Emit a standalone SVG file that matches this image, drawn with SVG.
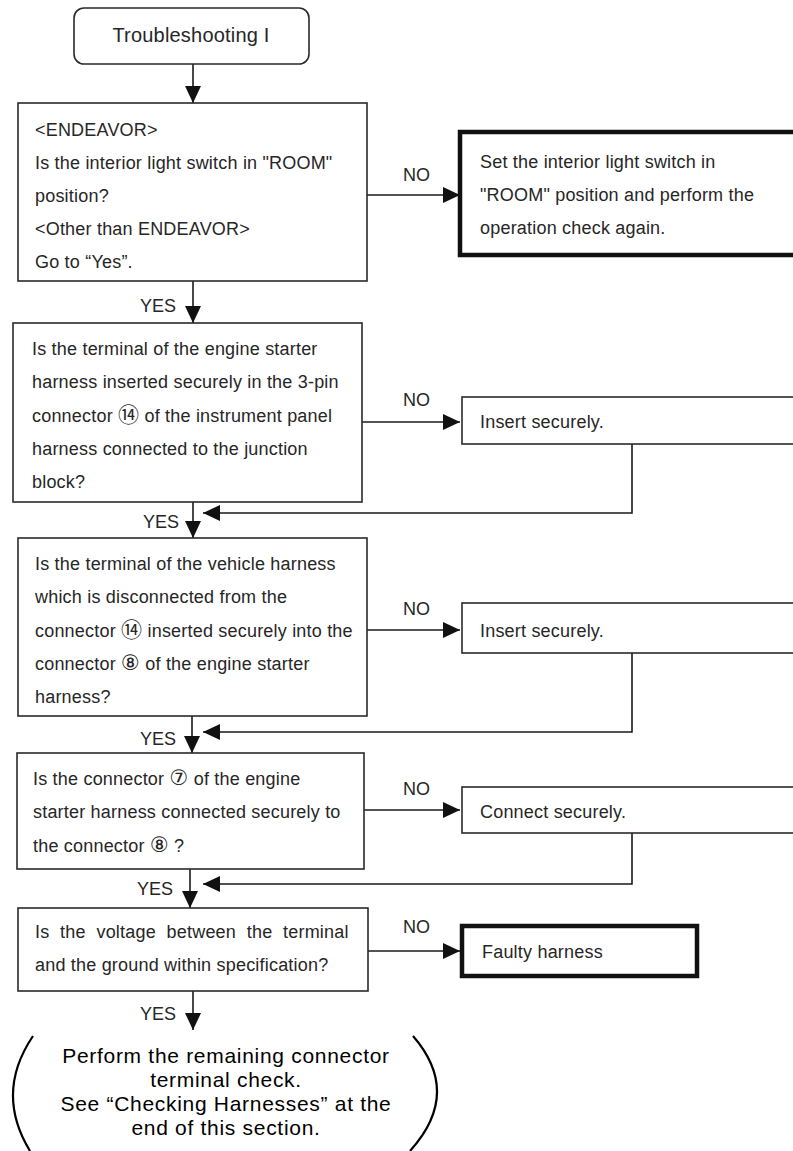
<svg xmlns="http://www.w3.org/2000/svg" width="793" height="1151" viewBox="0 0 793 1151">
<style>
text{font-family:"Liberation Sans","DejaVu Sans","Noto Sans CJK JP",sans-serif;fill:#262626;font-size:18px;letter-spacing:0.2px}
.cn{font-size:21px}
.box{fill:#fff;stroke:#2a2a2a;stroke-width:1.6}
.thick{fill:#fff;stroke:#111;stroke-width:4.5}
.ln{fill:none;stroke:#1a1a1a;stroke-width:1.6}
.arc{fill:none;stroke:#000;stroke-width:2.2}
.end{font-size:21px;fill:#000;text-anchor:middle;letter-spacing:0.7px}
.lbl{font-size:18px;letter-spacing:0}
</style>
<defs>
<marker id="ah" markerUnits="userSpaceOnUse" markerWidth="18" markerHeight="18" refX="17" refY="8" orient="auto">
<path d="M0,0 L17,8 L0,16 Z" fill="#111"/>
</marker>
</defs>
<rect width="793" height="1151" fill="#fff"/>

<g id="connectors">
<line class="ln" x1="193" y1="64" x2="193" y2="103" marker-end="url(#ah)"/>
<line class="ln" x1="367" y1="195" x2="460" y2="195" marker-end="url(#ah)"/>
<text class="lbl" x="403" y="181">NO</text>
<line class="ln" x1="193" y1="281" x2="193" y2="323" marker-end="url(#ah)"/>
<text class="lbl" x="140" y="312">YES</text>
<line class="ln" x1="362" y1="422" x2="460" y2="422" marker-end="url(#ah)"/>
<text class="lbl" x="403" y="406">NO</text>
<polyline class="ln" points="632,444 632,513 203,513" marker-end="url(#ah)"/>
<line class="ln" x1="193" y1="502" x2="193" y2="538" marker-end="url(#ah)"/>
<text class="lbl" x="143" y="528">YES</text>
<line class="ln" x1="367" y1="630" x2="460" y2="630" marker-end="url(#ah)"/>
<text class="lbl" x="403" y="615">NO</text>
<polyline class="ln" points="632,653 632,732 203,732" marker-end="url(#ah)"/>
<line class="ln" x1="192" y1="716" x2="192" y2="753" marker-end="url(#ah)"/>
<text class="lbl" x="140" y="745">YES</text>
<line class="ln" x1="364" y1="810" x2="460" y2="810" marker-end="url(#ah)"/>
<text class="lbl" x="403" y="795">NO</text>
<polyline class="ln" points="632,833 632,884 203,884" marker-end="url(#ah)"/>
<line class="ln" x1="190" y1="869" x2="190" y2="908" marker-end="url(#ah)"/>
<text class="lbl" x="137" y="895">YES</text>
<line class="ln" x1="368" y1="951" x2="460" y2="951" marker-end="url(#ah)"/>
<text class="lbl" x="403" y="933">NO</text>
<line class="ln" x1="193" y1="991" x2="193" y2="1030" marker-end="url(#ah)"/>
<text class="lbl" x="140" y="1020">YES</text>
</g>

<g id="start">
<rect class="box" x="74" y="8" width="235" height="56" rx="10"/>
<text x="191" y="42" text-anchor="middle" style="font-size:20px">Troubleshooting I</text>
</g>

<g id="q1">
<rect class="box" x="18" y="103" width="349" height="178"/>
<text x="35" y="136">&lt;ENDEAVOR&gt;</text>
<text x="35" y="169">Is the interior light switch in "ROOM"</text>
<text x="35" y="202">position?</text>
<text x="35" y="235">&lt;Other than ENDEAVOR&gt;</text>
<text x="35" y="268">Go to “Yes”.</text>
</g>

<g id="a1">
<rect class="thick" x="460" y="132" width="345" height="123"/>
<text x="480" y="168">Set the interior light switch in</text>
<text x="480" y="201">"ROOM" position and perform the</text>
<text x="480" y="234">operation check again.</text>
</g>

<g id="q2">
<rect class="box" x="13" y="323" width="349" height="179"/>
<text x="32" y="355">Is the terminal of the engine starter</text>
<text x="32" y="388">harness inserted securely in the 3-pin</text>
<text x="32" y="422">connector <tspan class="cn">⑭</tspan> of the instrument panel</text>
<text x="32" y="455">harness connected to the junction</text>
<text x="32" y="488">block?</text>
</g>

<g id="a2">
<rect class="box" x="462" y="397" width="345" height="47"/>
<text x="480" y="428">Insert securely.</text>
</g>

<g id="q3">
<rect class="box" x="18" y="538" width="349" height="178"/>
<text x="35" y="570">Is the terminal of the vehicle harness</text>
<text x="35" y="603">which is disconnected from the</text>
<text x="35" y="637">connector <tspan class="cn">⑭</tspan> inserted securely into the</text>
<text x="35" y="670">connector <tspan class="cn">⑧</tspan> of the engine starter</text>
<text x="35" y="703">harness?</text>
</g>

<g id="a3">
<rect class="box" x="462" y="603" width="345" height="50"/>
<text x="480" y="637">Insert securely.</text>
</g>

<g id="q4">
<rect class="box" x="17" y="753" width="347" height="116"/>
<text x="33" y="785">Is the connector <tspan class="cn">⑦</tspan> of the engine</text>
<text x="33" y="818">starter harness connected securely to</text>
<text x="33" y="852">the connector <tspan class="cn">⑧</tspan> ?</text>
</g>

<g id="a4">
<rect class="box" x="462" y="787" width="345" height="46"/>
<text x="480" y="818">Connect securely.</text>
</g>

<g id="q5">
<rect class="box" x="18" y="908" width="350" height="83"/>
<text x="35" y="938" style="word-spacing:5.5px">Is the voltage between the terminal</text>
<text x="35" y="971">and the ground within specification?</text>
</g>

<g id="a5">
<rect class="thick" x="462" y="926" width="235" height="50"/>
<text x="482" y="958">Faulty harness</text>
</g>

<g id="end">
<path class="arc" d="M33,1036 Q-5.5,1093 30,1151"/>
<path class="arc" d="M413,1036 Q462.5,1093 410,1151"/>
<text class="end" x="226" y="1063">Perform the remaining connector</text>
<text class="end" x="226" y="1087">terminal check.</text>
<text class="end" x="226" y="1111">See “Checking Harnesses” at the</text>
<text class="end" x="226" y="1135">end of this section.</text>
</g>
</svg>
